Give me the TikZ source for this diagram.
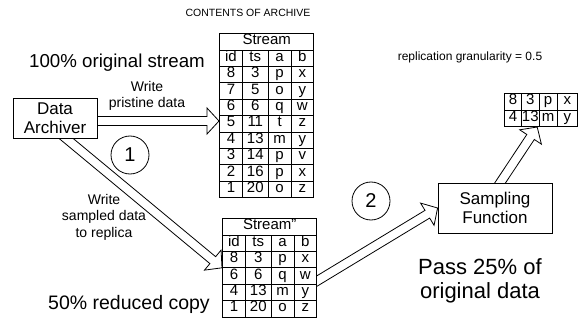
\documentclass[tikz,border=0pt]{standalone}
\usepackage{fontspec}
\setmainfont{Liberation Sans}
\usepackage{array}
\usetikzlibrary{calc, backgrounds}

\tikzstyle{procblock} = [draw, fill=white, line width=0.8pt, align=center, inner sep=2pt]
\tikzstyle{stepcircle} = [draw, fill=white, circle, line width=0.8pt, minimum size=38pt, inner sep=0pt, font=\fontsize{20}{22}\selectfont]
\tikzstyle{tableblock} = [fill=white, inner sep=0pt, font=\fontsize{15}{15.6}\selectfont]
\tikzstyle{fatarrow} = [draw, fill=white, line width=0.8pt, line join=miter]

\newcolumntype{C}[1]{>{\centering\arraybackslash}p{#1}}
\setlength{\tabcolsep}{0pt}
\setlength{\arrayrulewidth}{0.8pt}

% hollow block arrow from #1 to #2 (tip at #2)
\newcommand{\hollowarrow}[2]{%
  \coordinate (head base) at ($(#2)!12pt!(#1)$);
  \draw[fatarrow] ($(#1)!4.5pt!90:(#2)$) -- ($(head base)!4.5pt!-90:(#1)$)
    -- ($(head base)!13pt!-90:(#1)$) -- (#2) -- ($(head base)!13pt!90:(#1)$)
    -- ($(head base)!4.5pt!90:(#1)$) -- ($(#1)!4.5pt!-90:(#2)$) -- cycle;}

\begin{document}
\begin{tikzpicture}[x=1pt, y=-1pt]
      \useasboundingbox (0,0) rectangle (587,321);

      \node (title) at (248, 13) {\fontsize{10.5}{12}\selectfont CONTENTS OF ARCHIVE};
      \node (orig) at (117, 63) {\fontsize{18.7}{21}\selectfont 100\% original stream};
      \node (gran) at (470, 57) {\fontsize{12}{14}\selectfont replication granularity = 0.5};

      \node[procblock, minimum width=84pt, minimum height=40pt, font=\fontsize{17}{19}\selectfont] (archiver) at (55, 118) {Data\\Archiver};
      \node[procblock, minimum width=114pt, minimum height=50pt, font=\fontsize{17}{19}\selectfont] (sampling) at (495, 208) {Sampling\\Function};
      \node[stepcircle] (one) at (130, 155) {1};
      \node[stepcircle] (two) at (371, 201) {2};

      \node[tableblock, anchor=north west] (stream) at (219, 33) {%
        \begin{tabular}{|C{22pt}|C{25pt}|C{22pt}|C{22pt}|}
          \hline
          \multicolumn{4}{|c|}{Stream}\\ \hline
          id & ts & a & b\\ \hline
          8 & 3 & p & x\\ \hline
          7 & 5 & o & y\\ \hline
          6 & 6 & q & w\\ \hline
          5 & 11 & t & z\\ \hline
          4 & 13 & m & y\\ \hline
          3 & 14 & p & v\\ \hline
          2 & 16 & p & x\\ \hline
          1 & 20 & o & z\\ \hline
        \end{tabular}};
      \node[tableblock, anchor=north west] (replica) at (222, 218) {%
        \begin{tabular}{|C{22pt}|C{25pt}|C{22pt}|C{22pt}|}
          \hline
          \multicolumn{4}{|c|}{Stream''}\\ \hline
          id & ts & a & b\\ \hline
          8 & 3 & p & x\\ \hline
          6 & 6 & q & w\\ \hline
          4 & 13 & m & y\\ \hline
          1 & 20 & o & z\\ \hline
        \end{tabular}};
      \node[tableblock, anchor=north west] (result) at (504, 93) {%
        \begin{tabular}{|C{16pt}|C{17pt}|C{17pt}|C{20pt}|}
          \hline
          8 & 3 & p & x\\ \hline
          4 & 13 & m & y\\ \hline
        \end{tabular}};

      \node[align=center, font=\fontsize{14}{16}\selectfont] (writeorig) at (147, 96) {Write\\pristine data};
      \node[align=center, font=\fontsize{14}{16.5}\selectfont] (writerep) at (104, 217) {Write\\sampled data\\to replica};
      \node (reduced) at (129, 304) {\fontsize{19.5}{22}\selectfont 50\% reduced copy};
      \node[align=center, font=\fontsize{22}{24}\selectfont] (pass) at (480, 281) {Pass 25\% of\\original data};

      \coordinate (w1s) at ([yshift=-3pt]archiver.east);
      \coordinate (w1e) at (w1s -| stream.west);
      \coordinate (w2s) at ([xshift=5pt, yshift=5pt]archiver.south);
      \coordinate (p1s) at ([xshift=-5pt, yshift=-16pt]replica.east);
      \coordinate (p2s) at ([xshift=2pt, yshift=-5pt]sampling.north);
      \coordinate (p2e) at ([xshift=-4pt]result.south);

      \begin{scope}[on background layer]
        \hollowarrow{w1s}{w1e}
        \hollowarrow{w2s}{replica.west}
        \hollowarrow{p1s}{sampling.west}
        \hollowarrow{p2s}{p2e}
      \end{scope}
    \end{tikzpicture}
\end{document}
